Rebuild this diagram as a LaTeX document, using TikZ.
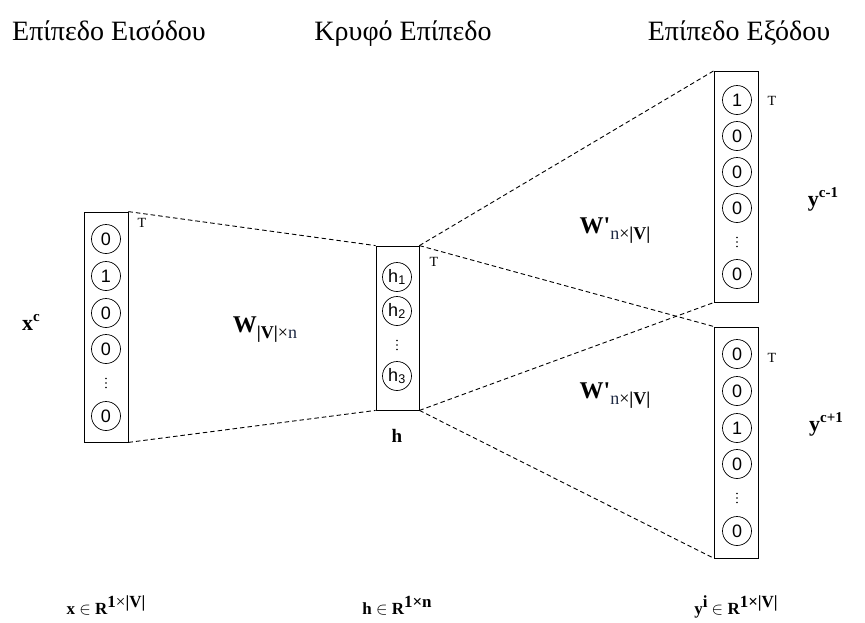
\documentclass[tikz,border=0pt]{standalone}
\usepackage{fontspec}
\usepackage{xcolor}
\setmainfont{Liberation Serif}
\newfontfamily\unitfont{Liberation Sans}
\usetikzlibrary{positioning}

\definecolor{subnavy}{RGB}{31,42,68}

% three small dots standing for the skipped units
\newcommand{\skipdots}[1]{%
  \fill (#1) ++(0,-4.5) circle (0.9pt) ++(0,4.5) circle (0.9pt) ++(0,4.5) circle (0.9pt);}

\begin{document}
\begin{tikzpicture}[x=1pt, y=-1pt,
  vecbox/.style={draw, line width=0.8pt, minimum width=44pt, inner sep=0pt},
  unit/.style={draw, circle, line width=0.7pt, minimum size=29pt, inner sep=0pt,
    font=\unitfont\fontsize{18}{18}\selectfont},
  link/.style={line width=0.9pt, dash pattern=on 4.5pt off 3pt},
  heading/.style={anchor=base, font=\fontsize{28}{28}\selectfont},
  vecname/.style={font=\fontsize{22}{22}\selectfont\bfseries},
  tmark/.style={font=\fontsize{14}{14}\selectfont},
  dimtext/.style={anchor=base, font=\fontsize{17}{17}\selectfont\bfseries}]
  \useasboundingbox (0,0) rectangle (865,622);

  % Layer titles
  \node[heading] (ttlin) at (109,40) {Επίπεδο Εισόδου};
  \node[heading] (ttlhid) at (403,40) {Κρυφό Επίπεδο};
  \node[heading] (ttlout) at (739,40) {Επίπεδο Εξόδου};

  % Input vector
  \node[vecbox, minimum height=230pt] (inbox) at (106,327) {};
  \node[unit] (in1) at (106,239) {0};
  \node[unit] (in2) at (106,276) {1};
  \node[unit] (in3) at (106,313) {0};
  \node[unit] (in4) at (106,349) {0};
  \coordinate (in5) at (106,383);
  \skipdots{in5}
  \node[unit] (in6) at (106,416) {0};
  \node[tmark] (inT) at (142,223) {T};
  \node[vecname] (xc) at (31,322) {x\raisebox{9pt}{\fontsize{15}{15}\selectfont c}};

  % Hidden vector
  \node[vecbox, minimum width=43pt, minimum height=164pt] (hidbox) at (397.5,328) {};
  \node[unit] (hid1) at (397,277) {h\textsubscript{1}};
  \node[unit] (hid2) at (397,311) {h\textsubscript{2}};
  \coordinate (hid3) at (397,345);
  \skipdots{hid3}
  \node[unit] (hid4) at (397,376) {h\textsubscript{3}};
  \node[tmark] (hidT) at (434,262) {T};
  \node[vecname, font=\fontsize{19}{19}\selectfont\bfseries] (hname) at (397,436) {h};

  % Output vector for c-1
  \node[vecbox, minimum height=231pt] (outa) at (736.5,186.5) {};
  \node[unit] (outa1) at (737,100) {1};
  \node[unit] (outa2) at (737,136) {0};
  \node[unit] (outa3) at (737,172) {0};
  \node[unit] (outa4) at (737,208) {0};
  \coordinate (outa5) at (737,242);
  \skipdots{outa5}
  \node[unit] (outa6) at (737,274) {0};
  \node[tmark] (outaT) at (772,101) {T};
  \node[vecname] (yprev) at (823,199) {y\raisebox{9pt}{\fontsize{15}{15}\selectfont c-1}};

  % Output vector for c+1
  \node[vecbox, minimum height=231pt] (outb) at (736.5,442.5) {};
  \node[unit] (outb1) at (737,354) {0};
  \node[unit] (outb2) at (737,391) {0};
  \node[unit] (outb3) at (737,428) {1};
  \node[unit] (outb4) at (737,464) {0};
  \coordinate (outb5) at (737,498);
  \skipdots{outb5}
  \node[unit] (outb6) at (737,531) {0};
  \node[tmark] (outbT) at (772,358) {T};
  \node[vecname] (ynext) at (826,424) {y\raisebox{9pt}{\fontsize{15}{15}\selectfont c+1}};

  % Weight matrices
  \node[font=\fontsize{24}{24}\selectfont] (win) at (265,330)
    {\textbf{W}\raisebox{-6pt}{\fontsize{18}{18}\selectfont\textbf{|V|}×\textcolor{subnavy}{n}}};
  \node[font=\fontsize{24}{24}\selectfont] (wouta) at (615,231)
    {\textbf{W\textquotesingle}\raisebox{-6pt}{\fontsize{18}{18}\selectfont\textcolor{subnavy}{n}×\textbf{|V|}}};
  \node[font=\fontsize{24}{24}\selectfont] (woutb) at (615,396)
    {\textbf{W\textquotesingle}\raisebox{-6pt}{\fontsize{18}{18}\selectfont\textcolor{subnavy}{n}×\textbf{|V|}}};

  % Dashed projections between the layers
  \draw[link] (inbox.north east) -- (hidbox.north west);
  \draw[link] (inbox.south east) -- (hidbox.south west);
  \draw[link] (hidbox.north east) -- (outa.north west);
  \draw[link] (hidbox.north east) -- (outb.north west);
  \draw[link] (hidbox.south east) -- (outa.south west);
  \draw[link] (hidbox.south east) -- (outb.south west);

  % Dimensions
  \node[dimtext] (xdim) at (106,614) {x $\in$ R\raisebox{7pt}{1\textmd{×}|V|}};
  \node[dimtext] (hdim) at (397,614) {h $\in$ R\raisebox{7pt}{1×n}};
  \node[dimtext] (ydim) at (736,614) {y\raisebox{7pt}{i} $\in$ R\raisebox{7pt}{1×|V|}};
\end{tikzpicture}
\end{document}
